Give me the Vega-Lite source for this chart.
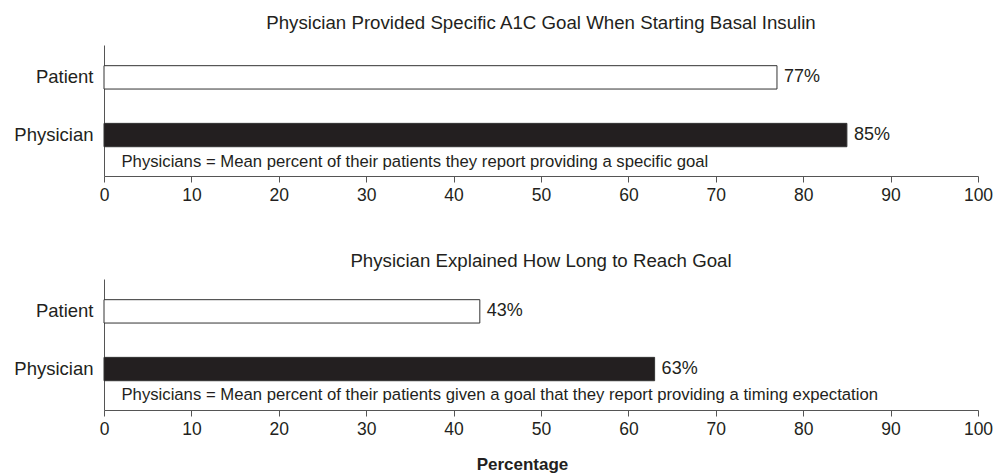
{
  "$schema": "https://vega.github.io/schema/vega-lite/v6.json",
  "background": "white",
  "padding": {"left": 13, "top": 14, "right": 0, "bottom": 2},
  "spacing": 48,
  "config": {
    "font": "Liberation Sans",
    "view": {"stroke": null},
    "axis": {"grid": false, "labelFlush": false, "domainColor": "#555555", "tickColor": "#555555", "labelColor": "#231f20", "titleColor": "#231f20", "labelFont": "Liberation Sans", "titleFont": "Liberation Sans"},
    "title": {"font": "Liberation Sans", "fontSize": 18.7, "fontWeight": "normal", "color": "#231f20", "anchor": "middle"}
  },
  "datasets": {
    "goal": [
      {"respondent": "Patient", "value": 77, "label": "77%"},
      {"respondent": "Physician", "value": 85, "label": "85%"}
    ],
    "goalNote": [
      {"respondent": "Physician", "x": 2, "note": "Physicians = Mean percent of their patients they report providing a specific goal"}
    ],
    "timing": [
      {"respondent": "Patient", "value": 43, "label": "43%"},
      {"respondent": "Physician", "value": 63, "label": "63%"}
    ],
    "timingNote": [
      {"respondent": "Physician", "x": 2, "note": "Physicians = Mean percent of their patients given a goal that they report providing a timing expectation"}
    ]
  },
  "vconcat": [
    {
      "title": {"text": "Physician Provided Specific A1C Goal When Starting Basal Insulin", "offset": 12},
      "width": 874,
      "height": 131,
      "layer": [
        {
          "data": {"name": "goal"},
          "mark": {"type": "bar", "stroke": "#333333", "strokeWidth": 1},
          "encoding": {
            "y": {"field": "respondent", "type": "nominal", "sort": ["Patient", "Physician"],
                  "scale": {"domain": ["Patient", "Physician"], "paddingInner": 0.595, "paddingOuter": 0.433, "align": 0.414},
                  "axis": {"title": null, "ticks": false, "labelFontSize": 18.5, "labelPadding": 11}},
            "x": {"field": "value", "type": "quantitative", "scale": {"domain": [0, 100]},
                  "axis": {"title": null, "values": [0,10,20,30,40,50,60,70,80,90,100], "tickSize": 6, "labelFontSize": 17.5, "labelPadding": 4}},
            "fill": {"field": "respondent", "type": "nominal", "scale": {"domain": ["Patient", "Physician"], "range": ["#ffffff", "#231f20"]}, "legend": null}
          }
        },
        {
          "data": {"name": "goal"},
          "mark": {"type": "text", "align": "left", "baseline": "middle", "dx": 7, "fontSize": 18, "color": "#231f20"},
          "encoding": {
            "y": {"field": "respondent", "type": "nominal"},
            "x": {"field": "value", "type": "quantitative"},
            "text": {"field": "label"}
          }
        },
        {
          "data": {"name": "goalNote"},
          "mark": {"type": "text", "align": "left", "baseline": "middle", "yOffset": 27, "fontSize": 16.7, "color": "#231f20"},
          "encoding": {
            "y": {"field": "respondent", "type": "nominal"},
            "x": {"field": "x", "type": "quantitative"},
            "text": {"field": "note"}
          }
        }
      ]
    },
    {
      "title": {"text": "Physician Explained How Long to Reach Goal", "offset": 8},
      "width": 874,
      "height": 131,
      "layer": [
        {
          "data": {"name": "timing"},
          "mark": {"type": "bar", "stroke": "#333333", "strokeWidth": 1},
          "encoding": {
            "y": {"field": "respondent", "type": "nominal", "sort": ["Patient", "Physician"],
                  "scale": {"domain": ["Patient", "Physician"], "paddingInner": 0.595, "paddingOuter": 0.433, "align": 0.414},
                  "axis": {"title": null, "ticks": false, "labelFontSize": 18.5, "labelPadding": 11}},
            "x": {"field": "value", "type": "quantitative", "scale": {"domain": [0, 100]},
                  "axis": {"title": "Percentage", "titleFontSize": 17, "titleFontWeight": "bold", "titleX": 418, "titlePadding": 19, "values": [0,10,20,30,40,50,60,70,80,90,100], "tickSize": 6, "labelFontSize": 17.5, "labelPadding": 4}},
            "fill": {"field": "respondent", "type": "nominal", "scale": {"domain": ["Patient", "Physician"], "range": ["#ffffff", "#231f20"]}, "legend": null}
          }
        },
        {
          "data": {"name": "timing"},
          "mark": {"type": "text", "align": "left", "baseline": "middle", "dx": 7, "fontSize": 18, "color": "#231f20"},
          "encoding": {
            "y": {"field": "respondent", "type": "nominal"},
            "x": {"field": "value", "type": "quantitative"},
            "text": {"field": "label"}
          }
        },
        {
          "data": {"name": "timingNote"},
          "mark": {"type": "text", "align": "left", "baseline": "middle", "yOffset": 26, "fontSize": 16.7, "color": "#231f20"},
          "encoding": {
            "y": {"field": "respondent", "type": "nominal"},
            "x": {"field": "x", "type": "quantitative"},
            "text": {"field": "note"}
          }
        }
      ]
    }
  ]
}
